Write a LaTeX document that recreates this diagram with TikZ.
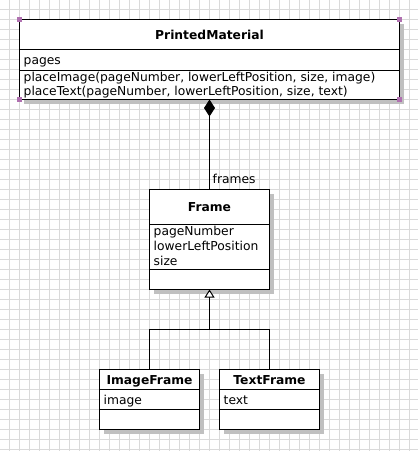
\documentclass[tikz,border=0pt]{standalone}
\usepackage{fontspec}
\setmainfont{DejaVu Sans}
\usetikzlibrary{arrows.meta,shadows}
\definecolor{gridc}{RGB}{218,218,218}
\definecolor{shadowc}{RGB}{192,192,192}
\definecolor{handlec}{RGB}{176,112,176}
\begin{document}
\begin{tikzpicture}[x=1pt,y=-1pt,
  font=\fontsize{12.3}{14}\selectfont,
  classbox/.style={draw=black, line width=1pt, fill=white, inner sep=0pt, outer sep=0pt,
    anchor=north west,
    drop shadow={shadow xshift=4pt, shadow yshift=-4pt, fill=shadowc, opacity=1}},
  sep/.style={draw=black, line width=1pt},
  conn/.style={draw=black, line width=1pt},
  ttl/.style={font=\fontsize{12.3}{14}\selectfont\bfseries, inner sep=0pt, anchor=base},
  attr/.style={inner sep=0pt, anchor=base west},
  handle/.style={fill=handlec, draw=none, minimum size=5pt, inner sep=0pt}]
\useasboundingbox (0,0) rectangle (418,451);
\fill[white] (0,0) rectangle (418,451);
\begin{scope}[shift={(0.5,0.5)}]
% grid
\foreach \g in {9,19,...,409} \draw[gridc, line width=1pt] (\g,-1) -- (\g,452);
\foreach \g in {9,19,...,449} \draw[gridc, line width=1pt] (-1,\g) -- (419,\g);

% PrintedMaterial
\node[classbox, minimum width=380pt, minimum height=80pt] (pm) at (19,19) {};
\draw[sep] (19,49) -- (399,49);
\draw[sep] (19,70) -- (399,70);
\node[ttl] (pmT) at (209,39) {PrintedMaterial};
\node[attr] (pmA) at (23,64) {pages};
\node[attr] (pmO1) at (23,81) {placeImage(pageNumber, lowerLeftPosition, size, image)};
\node[attr] (pmO2) at (23,95) {placeText(pageNumber, lowerLeftPosition, size, text)};

% Frame
\node[classbox, minimum width=120pt, minimum height=100pt] (fr) at (149,189) {};
\draw[sep] (149,224) -- (269,224);
\draw[sep] (149,269) -- (269,269);
\node[ttl] (frT) at (209,211) {Frame};
\node[attr] (frA1) at (153,235) {pageNumber};
\node[attr] (frA2) at (153,250) {lowerLeftPosition};
\node[attr] (frA3) at (153,265) {size};

% ImageFrame
\node[classbox, minimum width=100pt, minimum height=60pt] (im) at (99,369) {};
\draw[sep] (99,389) -- (199,389);
\draw[sep] (99,409) -- (199,409);
\node[ttl] (imT) at (149,384) {ImageFrame};
\node[attr] (imA) at (103,404) {image};

% TextFrame
\node[classbox, minimum width=100pt, minimum height=60pt] (tf) at (219,369) {};
\draw[sep] (219,389) -- (319,389);
\draw[sep] (219,409) -- (319,409);
\node[ttl] (tfT) at (269,384) {TextFrame};
\node[attr] (tfA) at (223,404) {text};

% composition
\draw[conn, {Diamond[length=17pt,width=11pt,fill=black]}-] (pm.south) -- (fr.north);
\node[attr] (lbl) at (212,183) {frames};

% generalisation
\coordinate (j) at (209,329);
\draw[conn] (im.north) -- (im.north |- j) -- (tf.north |- j) -- (tf.north);
\draw[conn, -{Triangle[open, length=8pt, width=10pt, fill=white]}] (j) -- (fr.south);

% selection handles
\node[handle] (h1) at (pm.north west) {};
\node[handle] (h2) at (pm.north east) {};
\node[handle] (h3) at (pm.south west) {};
\node[handle] (h4) at (pm.south east) {};
\end{scope}
\end{tikzpicture}
\end{document}
